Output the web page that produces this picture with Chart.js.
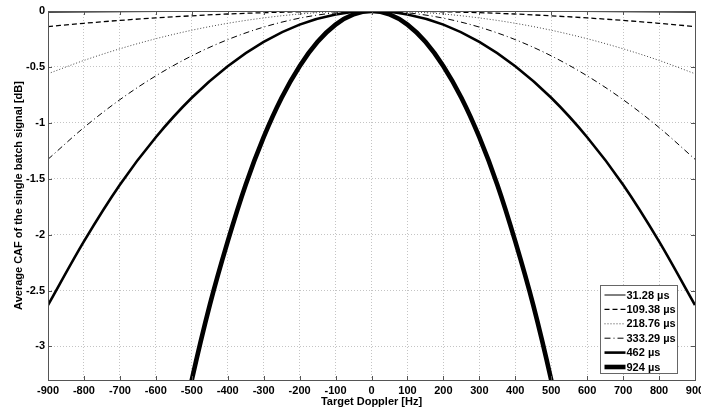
<!DOCTYPE html>
<html>
<head>
<meta charset="utf-8">
<script src="https://cdn.jsdelivr.net/npm/chart.js@4.4.1/dist/chart.umd.min.js"></script>
<style>
  html, body { margin: 0; padding: 0; background: #fff; }
  #wrap { width: 701px; height: 409px; }
</style>
</head>
<body>
<div id="wrap"><canvas id="cafChart" width="701" height="409"></canvas></div>
<script>
// Doppler axis (Hz)
const dopplerHz = [-900,-800,-700,-600,-500,-400,-300,-200,-100,0,100,200,300,400,500,600,700,800,900];
const dopplerHz924 = [-550,-500,-450,-400,-350,-300,-250,-200,-150,-100,-50,0,50,100,150,200,250,300,350,400,450,500,550];

// Average CAF loss [dB]
const caf3128  = [-0.011,-0.009,-0.007,-0.005,-0.0035,-0.0022,-0.0013,-0.0006,-0.0001,0,-0.0001,-0.0006,-0.0013,-0.0022,-0.0035,-0.005,-0.007,-0.009,-0.011];
const caf10938 = [-0.139,-0.110,-0.084,-0.062,-0.043,-0.027,-0.015,-0.007,-0.002,0,-0.002,-0.007,-0.015,-0.027,-0.043,-0.062,-0.084,-0.110,-0.139];
const caf21876 = [-0.561,-0.442,-0.338,-0.248,-0.172,-0.110,-0.062,-0.027,-0.007,0,-0.007,-0.027,-0.062,-0.110,-0.172,-0.248,-0.338,-0.442,-0.561];
const caf33329 = [-1.326,-1.042,-0.793,-0.580,-0.401,-0.256,-0.144,-0.064,-0.016,0,-0.016,-0.064,-0.144,-0.256,-0.401,-0.580,-0.793,-1.042,-1.326];
const caf462   = [-2.63,-2.06,-1.553,-1.129,-0.776,-0.494,-0.276,-0.122,-0.031,0,-0.031,-0.122,-0.276,-0.494,-0.776,-1.129,-1.553,-2.06,-2.63];
const caf924   = [-4.07,-3.30,-2.63,-2.06,-1.553,-1.129,-0.776,-0.494,-0.276,-0.122,-0.031,0,-0.031,-0.122,-0.276,-0.494,-0.776,-1.129,-1.553,-2.06,-2.63,-3.30,-4.07];

const seriesLabels = ['31.28 µs','109.38 µs','218.76 µs','333.29 µs','462 µs','924 µs'];

const xTickMin = -900, xTickMax = 900, xTickStep = 100;
const yTickMin = -3.3, yTickMax = 0, yTickStep = 0.5;

const FONT = '"Liberation Sans", Arial, sans-serif';

function toPoints(xs, ys) {
    return xs.map((x, i) => ({ x: x, y: ys[i] }));
}

// MATLAB-like box, inner ticks and legend
const matlabBox = {
    id: 'matlabBox',
    afterDraw(chart) {
        const { ctx, chartArea: a, scales } = chart;
        ctx.save();
        // inner tick marks
        ctx.strokeStyle = '#555';
        ctx.lineWidth = 1;
        scales.x.ticks.forEach(t => {
            const px = Math.round(scales.x.getPixelForValue(t.value)) + 0.5;
            ctx.beginPath();
            ctx.moveTo(px, a.bottom); ctx.lineTo(px, a.bottom - 4);
            ctx.moveTo(px, a.top); ctx.lineTo(px, a.top + 4);
            ctx.stroke();
        });
        scales.y.ticks.forEach(t => {
            const py = Math.round(scales.y.getPixelForValue(t.value)) + 0.5;
            ctx.beginPath();
            ctx.moveTo(a.left, py); ctx.lineTo(a.left + 4, py);
            ctx.moveTo(a.right, py); ctx.lineTo(a.right - 4, py);
            ctx.stroke();
        });
        // box
        ctx.strokeStyle = '#555';
        ctx.strokeRect(Math.round(a.left) + 0.5, Math.round(a.top) + 0.5,
                       Math.round(a.right - a.left), Math.round(a.bottom - a.top));

        // legend
        const rowH = 14.4, w = 77, h = 88;
        const bx = Math.round(a.right - 18 - w) + 0.5;
        const by = Math.round(a.bottom - 7 - h) + 0.5;
        ctx.fillStyle = '#fff';
        ctx.fillRect(bx, by, w, h);
        ctx.strokeStyle = '#666';
        ctx.strokeRect(bx, by, w, h);
        ctx.font = 'bold 11px ' + FONT;
        ctx.textBaseline = 'middle';
        chart.data.datasets.forEach((ds, i) => {
            const cy = by + 9.5 + i * rowH;
            ctx.beginPath();
            ctx.setLineDash(ds.borderDash || []);
            ctx.lineWidth = ds.borderWidth;
            ctx.strokeStyle = ds.borderColor;
            ctx.moveTo(bx + 4, cy); ctx.lineTo(bx + 25, cy);
            ctx.stroke();
            ctx.setLineDash([]);
            ctx.fillStyle = '#000';
            ctx.fillText(ds.label, bx + 26, cy + 0.5);
        });
        ctx.restore();
    }
};

const ctx = document.getElementById('cafChart').getContext('2d');
new Chart(ctx, {
    type: 'line',
    data: {
        datasets: [
            { label: seriesLabels[0], data: toPoints(dopplerHz, caf3128),  borderColor: '#000', borderWidth: 1 },
            { label: seriesLabels[1], data: toPoints(dopplerHz, caf10938), borderColor: '#000', borderWidth: 1.3, borderDash: [5, 3] },
            { label: seriesLabels[2], data: toPoints(dopplerHz, caf21876), borderColor: '#444', borderWidth: 1, borderDash: [1, 2] },
            { label: seriesLabels[3], data: toPoints(dopplerHz, caf33329), borderColor: '#000', borderWidth: 1, borderDash: [6, 3, 1, 3] },
            { label: seriesLabels[4], data: toPoints(dopplerHz, caf462),   borderColor: '#000', borderWidth: 2.6 },
            { label: seriesLabels[5], data: toPoints(dopplerHz924, caf924), borderColor: '#000', borderWidth: 4.6 }
        ]
    },
    options: {
        responsive: false,
        animation: false,
        cubicInterpolationMode: 'monotone',
        layout: { padding: { top: 11, right: 0, left: 0, bottom: 0 } },
        elements: { point: { radius: 0 } },
        plugins: { legend: { display: false }, tooltip: { enabled: false } },
        scales: {
            x: {
                type: 'linear',
                min: xTickMin, max: xTickMax,
                afterFit(s) { s.height = 29; s.paddingRight = 6; s.paddingLeft = 0; },
                ticks: { stepSize: xTickStep, color: '#000', padding: 4, font: { family: FONT, size: 11, weight: 'bold' } },
                grid: { color: '#c4c4c4', drawTicks: false },
                border: { display: false, dash: [1, 2] },
                title: { display: true, text: 'Target Doppler [Hz]', color: '#000', padding: { top: 0, bottom: 0 }, font: { family: FONT, size: 11, weight: 'bold' } }
            },
            y: {
                min: yTickMin, max: yTickMax,
                afterFit(s) { s.width = 48; },
                ticks: {
                    stepSize: yTickStep, includeBounds: false, color: '#000', padding: 3,
                    font: { family: FONT, size: 11, weight: 'bold' },
                    callback: v => String(Number(v.toFixed(2)))
                },
                grid: { color: '#c4c4c4', drawTicks: false },
                border: { display: false, dash: [1, 2] },
                title: { display: true, text: 'Average CAF of the single batch signal [dB]', color: '#000', padding: { top: 12, bottom: 0 }, font: { family: FONT, size: 11, weight: 'bold' } }
            }
        }
    },
    plugins: [matlabBox]
});
</script>
</body>
</html>
